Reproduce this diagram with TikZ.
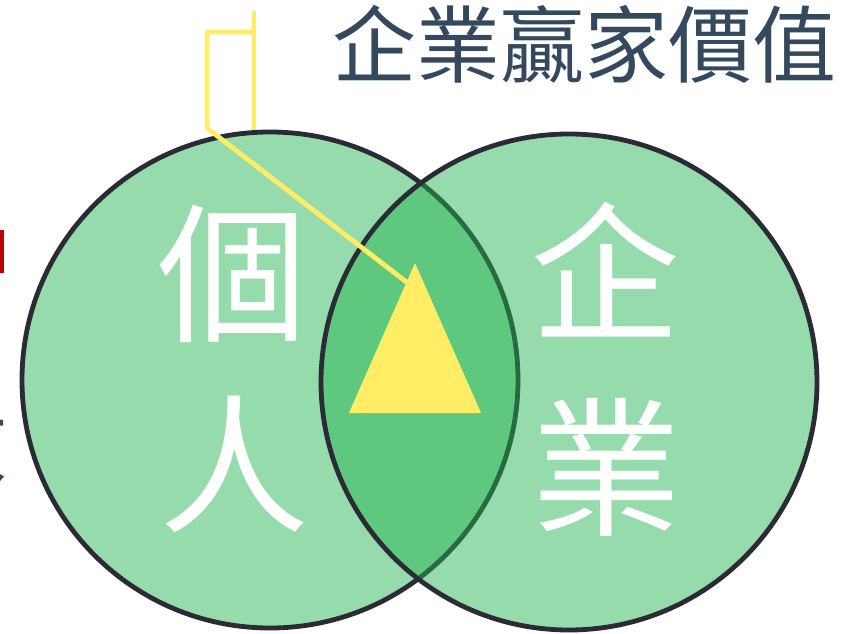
\documentclass[tikz,border=0pt]{standalone}
\usepackage{fontspec}
\newfontfamily\cjk{Noto Sans CJK TC}
\definecolor{circfill}{RGB}{34,179,78}
\definecolor{circline}{RGB}{43,43,54}
\definecolor{hl}{RGB}{255,237,102}
\definecolor{titlec}{RGB}{52,73,94}
\definecolor{redbar}{RGB}{192,0,0}
\tikzset{
  circ/.style={fill=circfill, fill opacity=0.476, draw=circline, line width=4.8pt},
  bigchar/.style={text=white, inner sep=0pt, font=\cjk\fontsize{150}{150}\selectfont, text height=132pt, text depth=18pt},
  titletext/.style={text=titlec, inner sep=0pt, font=\cjk\fontsize{84}{84}\selectfont, text height=73.9pt, text depth=10.1pt},
  callout/.style={draw=hl, line width=4.8pt, line join=round},
  tri/.style={fill=hl}
}
\begin{document}
\begin{tikzpicture}[x=1pt,y=-1pt]
\useasboundingbox (0,0) rectangle (841,634);
% clipped leftovers at the left edge
\fill[redbar] (0,230) rectangle (4,273);
\node[titletext, anchor=east] (edge) at (8,444) {效};
% circles
\draw[circ] (270,380) circle (248);
\draw[circ] (569,382) circle (248);
% callout line
\coordinate (c1) at (254,11);
\coordinate (c2) at (254,32);
\coordinate (c3) at (207,32);
\coordinate (c4) at (207,128);
\coordinate (c5) at (409,284);
\coordinate (c6) at (254,130);
\draw[callout] (c1) -- (c6);
\draw[callout] (c2) -- (c3) -- (c4) -- (c5);
% triangle
\coordinate (t1) at (415,263);
\coordinate (t2) at (349,413);
\coordinate (t3) at (481,413);
\fill[tri] (t1) -- (t2) -- (t3) -- cycle;
% texts
\node[titletext] (title) at (584,45) {企業贏家價值};
\node[bigchar] (ge) at (232,273) {個};
\node[bigchar] (ren) at (234,464) {人};
\node[bigchar] (qi) at (605,272) {企};
\node[bigchar] (ye) at (606,467) {業};
\end{tikzpicture}
\end{document}
